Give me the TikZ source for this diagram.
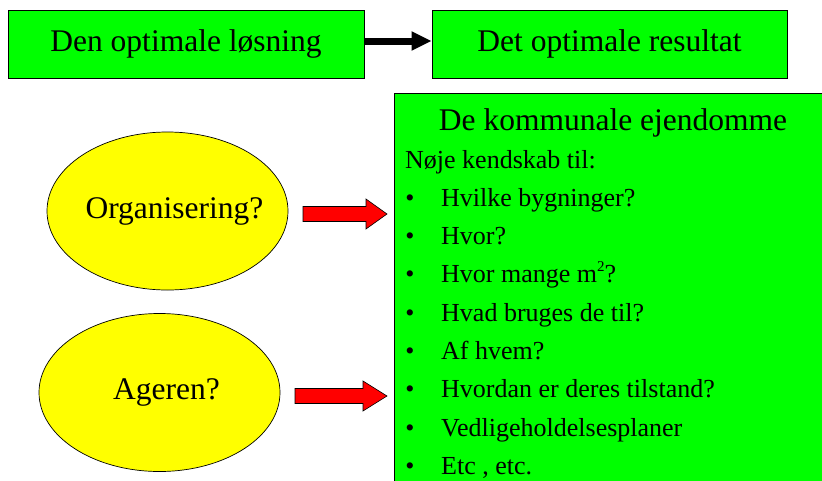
\documentclass[tikz,border=0pt]{standalone}
\usepackage{fontspec}
\setmainfont{Liberation Serif}
\usetikzlibrary{shapes.geometric,arrows.meta}
\definecolor{boxgreen}{HTML}{00FF00}
\definecolor{ellyellow}{HTML}{FFFF00}
\definecolor{arrred}{HTML}{FF0000}
\tikzset{
  topbox/.style={draw=black, line width=0.9pt, fill=boxgreen, minimum height=68pt, inner sep=0pt, font=\fontsize{31.5}{36}\selectfont},
  ellnode/.style={ellipse, draw=black, line width=0.7pt, fill=ellyellow, minimum width=241pt, minimum height=158pt, inner sep=0pt, font=\fontsize{31.5}{36}\selectfont},
  blockarrow/.style={draw=black, line width=0.6pt, fill=arrred},
  listtext/.style={anchor=base west, inner sep=0pt, font=\fontsize{26}{30}\selectfont},
  bullettext/.style={anchor=base, inner sep=0pt, font=\fontsize{26}{30}\selectfont},
  titletext/.style={anchor=base, inner sep=0pt, font=\fontsize{31.5}{36}\selectfont},
}
\newcommand{\msup}{m\raisebox{0.45em}{\fontsize{15}{15}\selectfont 2}}
\newcommand{\elltext}[1]{\makebox[120pt][c]{\hspace*{14pt}#1}}
\begin{document}
\begin{tikzpicture}[x=1pt,y=-1pt]
\clip (0,0) rectangle (822,480);
\fill[white] (0,0) rectangle (822,480);
% top boxes
\node[topbox, minimum width=356pt] (b1) at (186,44) {Den optimale løsning};
\node[topbox, minimum width=355pt] (b2) at (609.5,44) {Det optimale resultat};
\coordinate (a1) at (b1.east |- 0,41);
\coordinate (a2) at (b2.west |- 0,41);
\draw[line width=7pt, -{Triangle[length=20pt,width=18pt]}] (a1) -- (a2);
% big box
\node[draw=black, line width=0.9pt, fill=boxgreen, minimum width=450pt, minimum height=420pt, anchor=north west, inner sep=0pt] (big) at (394,93) {};
\node[titletext] (title) at (613,130) {De kommunale ejendomme};
\node[listtext] (intro) at (405,168) {Nøje kendskab til:};
\foreach \t [count=\i] in {Hvilke bygninger?, Hvor?, Hvor mange \msup?, Hvad bruges de til?, Af hvem?, Hvordan er deres tilstand?, Vedligeholdelsesplaner, {Etc , etc.}}{
  \node[bullettext] (bul\i) at (410,{168+\i*38.3}) {\textbullet};
  \node[listtext] (item\i) at (441,{168+\i*38.3}) {\t};
}
% ellipses
\node[ellnode] (e1) at (167.5,211) {\elltext{Organisering?}};
\node[ellnode] (e2) at (159.5,392.5) {\elltext{Ageren?}};
% red block arrows
\draw[blockarrow] (303,206.5) -- (366,206.5) -- (366,199) -- (387,214) -- (366,229) -- (366,221.5) -- (303,221.5) -- cycle;
\draw[blockarrow] (295,388.5) -- (363,388.5) -- (363,381) -- (387,396) -- (363,411) -- (363,403.5) -- (295,403.5) -- cycle;
\end{tikzpicture}
\end{document}
